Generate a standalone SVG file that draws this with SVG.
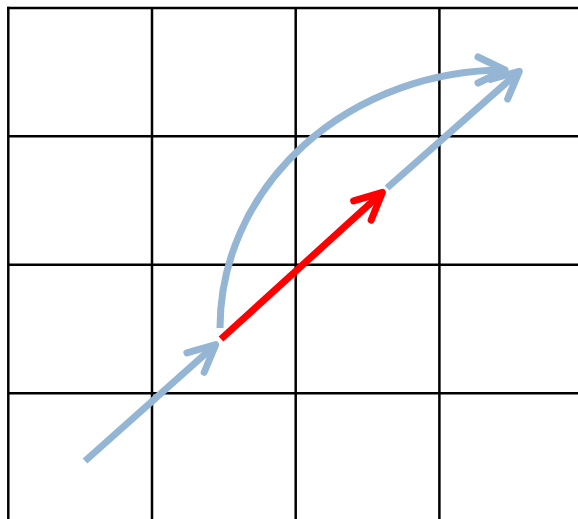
<svg xmlns="http://www.w3.org/2000/svg" width="578" height="519" viewBox="0 0 578 519">
<style>
.grid{stroke:#000;stroke-width:2.5;fill:none}
.blue{stroke:#94b6d4;stroke-width:7;fill:none}
.red{stroke:#ff0000;stroke-width:7;fill:none}
.head{fill:none;stroke-width:7;stroke-linecap:round;stroke-linejoin:round}
</style>
<defs>
<marker id="hb" markerUnits="userSpaceOnUse" orient="auto" refX="0" refY="0" markerWidth="80" markerHeight="80" viewBox="-40 -40 80 80" overflow="visible">
<path class="head" stroke="#94b6d4" d="M -27 -13 L 0 0 L -27 13"/>
</marker>
<marker id="hr" markerUnits="userSpaceOnUse" orient="auto" refX="0" refY="0" markerWidth="80" markerHeight="80" viewBox="-40 -40 80 80" overflow="visible">
<path class="head" stroke="#ff0000" d="M -27 -13 L 0 0 L -27 13"/>
</marker>
</defs>
<g id="grid" class="grid">
<line x1="8.3" y1="6.8" x2="8.3" y2="519"/>
<line x1="152" y1="8" x2="152" y2="519"/>
<line x1="295.7" y1="8" x2="295.7" y2="519"/>
<line x1="439.4" y1="8" x2="439.4" y2="519"/>
<line x1="7" y1="8" x2="578" y2="8"/>
<line x1="8.3" y1="136.3" x2="578" y2="136.3"/>
<line x1="8.3" y1="264.8" x2="578" y2="264.8"/>
<line x1="8.3" y1="393.3" x2="578" y2="393.3"/>
</g>
<g id="connectors">
<path id="blue1" class="blue" d="M 85 461 L 215.7 344.6" marker-end="url(#hb)"/>
<path id="arc" class="blue" d="M 220 328 A 285 258 0 0 1 505 70" marker-end="url(#hb)"/>
<path id="blue2" class="blue" d="M 387 188 L 519.3 71.3" marker-end="url(#hb)"/>
<path id="red" class="red" d="M 221 339 L 382.4 192.4" marker-end="url(#hr)"/>
</g>
</svg>
